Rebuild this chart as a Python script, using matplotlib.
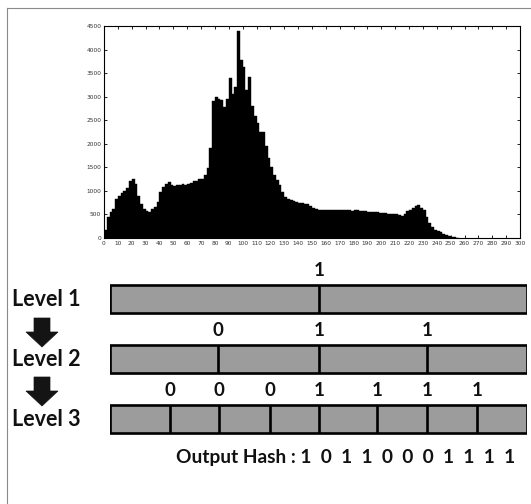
import matplotlib
matplotlib.use("Agg")
import matplotlib.pyplot as plt
from matplotlib import transforms
from matplotlib.patches import Polygon
import numpy as np

# ---------------- data ----------------
# histogram of grey levels, bins of width 2 (0-2, 2-4, ..., 254-256)
hist_counts = [
    170, 450, 560, 620, 830, 900, 950, 1000, 1060, 1200,      # 0-18
    1260, 1150, 900, 720, 620, 580, 560, 620, 660, 760,       # 20-38
    980, 1080, 1150, 1190, 1130, 1110, 1130, 1120, 1150, 1130,  # 40-58
    1150, 1170, 1200, 1210, 1250, 1260, 1330, 1480, 1900, 2900,  # 60-78
    3000, 2960, 2930, 2780, 2950, 3390, 3050, 3200, 4400, 3780,  # 80-98
    3640, 3150, 3420, 2800, 2600, 2450, 2250, 2250, 1950, 1700,  # 100-118
    1500, 1330, 1230, 1120, 970, 860, 820, 800, 775, 760,       # 120-138
    740, 735, 725, 715, 680, 640, 610, 600, 595, 590,           # 140-158
    595, 590, 600, 590, 585, 595, 590, 585, 590, 580,           # 160-178
    585, 590, 575, 575, 570, 560, 555, 550, 545, 540,           # 180-198
    535, 530, 520, 510, 505, 500, 495, 475, 520, 570,           # 200-218
    600, 640, 670, 690, 640, 600, 440, 320, 230, 180,           # 220-238
    150, 120, 85, 60, 42, 28, 16, 8,                            # 240-254
]
bin_width = 2
x_ticks = list(range(0, 301, 10))
y_ticks = list(range(0, 4501, 500))

level_names = ["Level 1", "Level 2", "Level 3"]
level_splits = [
    [0.501],
    [0.259, 0.501, 0.760],
    [0.144, 0.261, 0.384, 0.501, 0.640, 0.760, 0.880],
]
level_bits = [
    [1],
    [0, 1, 1],
    [0, 0, 0, 1, 1, 1, 1],
]
hash_label = "Output Hash :"

# ---------------- figure ----------------
W, H = 531, 504
fig = plt.figure(figsize=(W / 100, H / 100), dpi=100)
fig.patch.set_facecolor("white")
FONT = ["Lato", "DejaVu Sans"]

def fx(px):
    return px / W

def fy(py):
    return 1 - py / H

# histogram axes
ax = fig.add_axes([fx(104), fy(238), fx(520) - fx(104), fy(26) - fy(238)])
edges = np.arange(len(hist_counts)) * bin_width
ax.bar(edges, hist_counts, width=bin_width, align="edge", color="black",
       edgecolor="black", linewidth=0.3)
ax.set_xlim(0, 300)
ax.set_ylim(0, 4500)
ax.set_xticks(x_ticks)
ax.set_yticks(y_ticks)
ax.set_xticklabels([str(t) for t in x_ticks], fontsize=4.2, color="#333333")
ax.set_yticklabels([str(t) for t in y_ticks], fontsize=4.2, color="#333333")
ax.tick_params(direction="in", top=True, right=True, length=2.5, width=0.6, pad=2)
for s in ax.spines.values():
    s.set_linewidth(0.8)

# level bars axes (rows 0,1,2 from top)
ax2 = fig.add_axes([fx(110), fy(461), fx(527) - fx(110), fy(254) - fy(461)])
ax2.set_xlim(0, 1)
ax2.set_ylim(2.7, -0.75)
ax2.axis("off")
bar_h = 0.467
label_off = 0.48
for row, (splits, bits) in enumerate(zip(level_splits, level_bits)):
    ax2.barh(row, 1.0, left=0, height=bar_h, color="#9c9c9c", edgecolor="black",
             linewidth=1.9)
    ax2.vlines(splits, row - bar_h / 2, row + bar_h / 2, color="black", linewidth=1.9)
    for s, b in zip(splits, bits):
        ax2.text(s, row - label_off, str(b), ha="center", va="center",
                 fontsize=13.5, fontweight="bold", family=FONT, color="#111111")

# level names
tr = transforms.blended_transform_factory(fig.transFigure, ax2.transData)
for row, name in enumerate(level_names):
    fig.text(fx(12), row, name, transform=tr, ha="left", va="center",
             fontsize=15.5, fontweight="bold", family=FONT, color="#111111")

# decoration overlay (frame, arrows)
deco = fig.add_axes([0, 0, 1, 1], zorder=-1)
deco.set_xlim(0, W)
deco.set_ylim(H, 0)
deco.axis("off")
deco.plot([7, W], [8, 8], color="#8a8a8a", lw=0.8)
deco.plot([7, 7], [8, H], color="#8a8a8a", lw=0.8)
for top in (318, 377):
    arrow = Polygon([[34, top], [50, top], [50, top + 14], [58, top + 14],
                     [42, top + 29], [26, top + 14], [34, top + 14]],
                    closed=True, facecolor="#141414", edgecolor="#141414", lw=0.5)
    deco.add_patch(arrow)

# output hash
bits_flat = [b for lvl in level_bits for b in lvl]
hash_text = hash_label + " " + "  ".join(str(b) for b in bits_flat)
fig.text(fx(515), fy(457), hash_text, ha="right", va="center",
         fontsize=13.8, fontweight="bold", family=FONT, color="#111111")

fig.savefig("out.png", dpi=100, facecolor="white")
